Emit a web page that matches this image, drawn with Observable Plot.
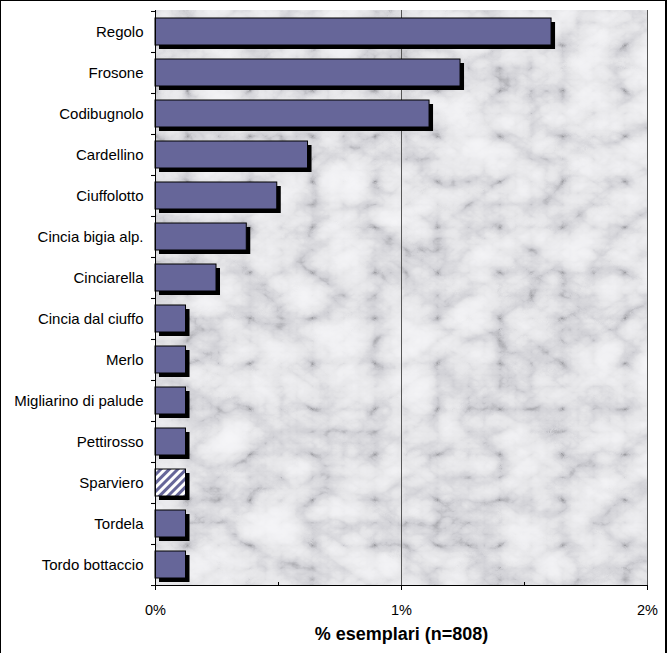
<!DOCTYPE html>
<html><head><meta charset="utf-8">
<script src="https://cdn.jsdelivr.net/npm/d3@7"></script>
<script src="https://cdn.jsdelivr.net/npm/@observablehq/plot@0.6"></script>
<style>
html,body{margin:0;padding:0;background:#fff;}
#wrap{position:relative;width:670px;height:653px;overflow:hidden;}
#border{position:absolute;left:0;top:0;width:664px;height:660px;border-left:1px solid #000;border-top:1px solid #000;border-right:2px solid #000;pointer-events:none;}
</style></head><body>
<div id="wrap"><div id="chart"></div><div id="border"></div></div>
<script>
const species = ["Regolo","Frosone","Codibugnolo","Cardellino","Ciuffolotto","Cincia bigia alp.","Cinciarella","Cincia dal ciuffo","Merlo","Migliarino di palude","Pettirosso","Sparviero","Tordela","Tordo bottaccio"];
const pct = [1.61,1.24,1.114,0.62,0.495,0.371,0.248,0.124,0.124,0.124,0.124,0.124,0.124,0.124];
const hatched = ["Sparviero"];
const xTicks = [0,1,2];
const xMinorTicks = [0.5,1.5];
const xLabel = "% esemplari (n=808)";

const rows = species.map((s,i)=>({species:s, pct:pct[i]}));
const W=670, H=653, mt=10, mb=68, ml=155, mr=23;
const step = (H-mt-mb)/species.length;
const barColor = "#666699";

const chart = Plot.plot({
  width:W, height:H, marginLeft:ml, marginRight:mr, marginTop:mt, marginBottom:mb,
  style:{fontFamily:"'Liberation Sans', Arial, sans-serif", fontSize:"14px", color:"#000", background:"transparent"},
  x:{domain:[0,2]},
  y:{domain:species, padding:0},
  marks:[
    Plot.frame({fill:"#e6e6e6"}),
    Plot.ruleX([1,2],{stroke:"#555"}),
    Plot.barX(rows,{y:"species",x:"pct",fill:"#000",dx:4,dy:4,insetTop:7,insetBottom:7}),
    Plot.barX(rows.filter(d=>!hatched.includes(d.species)),{y:"species",x:"pct",fill:barColor,stroke:"#000",strokeWidth:1,insetTop:7,insetBottom:7}),
    Plot.barX(rows.filter(d=>hatched.includes(d.species)),{y:"species",x:"pct",fill:"url(#hatch)",stroke:"#000",strokeWidth:1,insetTop:7,insetBottom:7}),
    Plot.frame({anchor:"left", stroke:"#000"}),
    Plot.frame({anchor:"bottom", stroke:"#000"}),
    Plot.axisY({tickSize:0, tickPadding:12, fontSize:15, label:null}),
    Plot.axisY({tickSize:4, text:null, dy:-step/2, label:null}),
    Plot.axisY({tickSize:4, text:null, dy:step/2, label:null}),
    Plot.axisX({ticks:xTicks, tickSize:5, tickPadding:14, tickFormat:d=>d+"%", label:null, fontSize:14.5}),
    Plot.axisX({ticks:xMinorTicks, tickSize:3, text:null, dy:-3, label:null}),
    Plot.text([xLabel],{frameAnchor:"bottom", dy:54, fontWeight:"bold", fontSize:18})
  ]
});

const svg = d3.select(chart);
const defs = svg.insert("defs", ":first-child");
const f = defs.append("filter").attr("id","marble").attr("x",0).attr("y",0).attr("width",1).attr("height",1).attr("color-interpolation-filters","sRGB");
f.append("feTurbulence").attr("type","turbulence").attr("baseFrequency","0.016 0.022").attr("numOctaves",5).attr("seed",7).attr("result","t");
f.append("feColorMatrix").attr("type","matrix").attr("values","0.6 0.4 0 0 0  0.6 0.4 0 0 0  0.6 0.4 0 0 0  0 0 0 0 1");
const ct = f.append("feComponentTransfer");
ct.append("feFuncR").attr("type","table").attr("tableValues","0.62 0.82 0.9 0.94 0.96 0.97 0.98");
ct.append("feFuncG").attr("type","table").attr("tableValues","0.62 0.82 0.9 0.94 0.96 0.97 0.98");
ct.append("feFuncB").attr("type","table").attr("tableValues","0.64 0.84 0.91 0.95 0.97 0.98 0.99");
const p = defs.append("pattern").attr("id","hatch").attr("patternUnits","userSpaceOnUse").attr("width",6).attr("height",6).attr("patternTransform","rotate(45)");
p.append("rect").attr("width",6).attr("height",6).attr("fill","#fff");
p.append("rect").attr("width",3).attr("height",6).attr("fill",barColor);
svg.select('[aria-label="frame"]').attr("filter","url(#marble)");

document.getElementById("chart").appendChild(chart);
</script>
</body></html>
